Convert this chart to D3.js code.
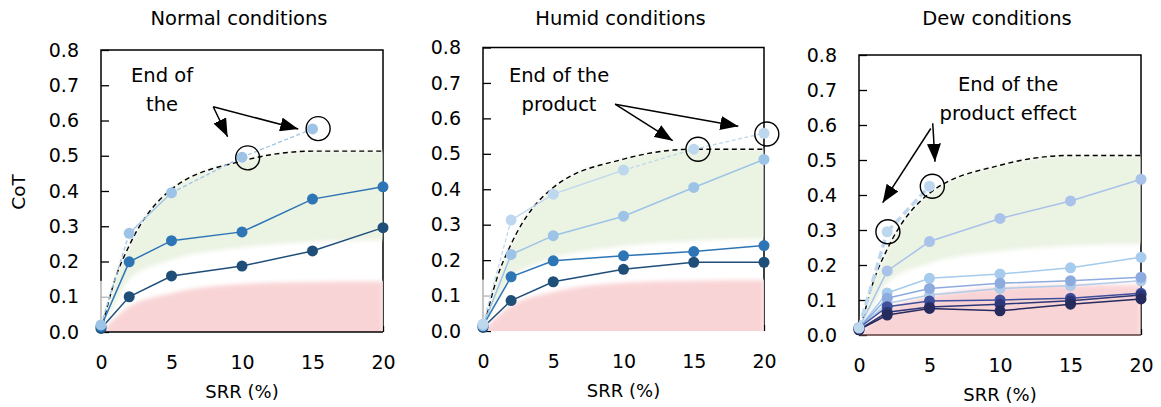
<!DOCTYPE html>
<html><head><meta charset="utf-8">
<script src="https://cdn.jsdelivr.net/npm/d3@7"></script>
<style>
body{margin:0;background:#fff}
svg{display:block}
text{font-family:"DejaVu Sans",sans-serif;fill:#000}
</style>
</head><body><svg id="c" width="1161" height="407"></svg>
<script>
// ---------- data ----------
const srr = [0, 2, 5, 10, 15, 20];
const xTickValues = [0, 5, 10, 15, 20];
const yTickValues = [0, 0.1, 0.2, 0.3, 0.4, 0.5, 0.6, 0.7, 0.8];
const panelTitles = ["Normal conditions", "Humid conditions", "Dew conditions"];
const xLabel = "SRR (%)";
const yLabel = "CoT";

const normalA = [0.02, 0.28, 0.395, 0.496, 0.576];
const normalB = [0.015, 0.199, 0.259, 0.284, 0.377, 0.412];
const normalC = [0.01, 0.1, 0.159, 0.187, 0.23, 0.296];

const humidA = [0.02, 0.313, 0.386, 0.454, 0.513, 0.558];
const humidB = [0.015, 0.216, 0.269, 0.324, 0.405, 0.484];
const humidC = [0.015, 0.153, 0.198, 0.212, 0.224, 0.241];
const humidD = [0.01, 0.086, 0.139, 0.174, 0.194, 0.194];

const dewA = [0.02, 0.295, 0.425];
const dewB = [0.02, 0.183, 0.267, 0.333, 0.383, 0.445];
const dewC = [0.02, 0.12, 0.162, 0.174, 0.192, 0.222];
const dewD = [0.02, 0.105, 0.133, 0.148, 0.155, 0.165];
const dewE = [0.02, 0.09, 0.114, 0.133, 0.141, 0.155];
const dewF = [0.02, 0.081, 0.097, 0.1, 0.105, 0.119];
const dewG = [0.015, 0.065, 0.08, 0.088, 0.098, 0.114];
const dewH = [0.015, 0.057, 0.076, 0.069, 0.088, 0.103];

// reference band (same in all panels)
const limitSrr   = [0, 1, 2, 5, 10, 15, 20];
const upperLimit = [0, 0.15, 0.245, 0.405, 0.485, 0.513, 0.513];
const greenLower = [0, 0.08, 0.15, 0.205, 0.24, 0.255, 0.26];
const redUpper   = [0, 0.04, 0.072, 0.11, 0.136, 0.142, 0.143];
const hazeTop = 0.145;

// annotations (data units)
const annotText = [["End of", "the"], ["End of the", "product"], ["End of the", "product effect"]];
const annotTextPos = [[4.33, 0.709], [5.41, 0.703], [10.57, 0.698]];
const annotArrowFrom = [[[7.96, 0.639], [7.96, 0.639]], [[9.4, 0.64], [9.4, 0.64]], [[5.09, 0.59], [5.23, 0.605]]];
const annotArrowTo = [[[8.98, 0.554], [13.99, 0.576]], [[13.5, 0.537], [18.17, 0.578]], [[1.68, 0.378], [5.39, 0.495]]];
const annotCircles = [[[10.4, 0.494], [15.4, 0.577]], [[15.3, 0.513], [20.2, 0.556]], [[2.05, 0.295], [5.2, 0.425]]];

// ---------- layout / style ----------
const panels = [
  { xr: [101, 383], yr: [332, 50], haze: true, bottom: "#000",
    series: [
      { v: normalC, c: "#1f4e79" },
      { v: normalB, c: "#2e75b6" },
      { v: normalA, c: "#9dc3e6", seg: ["d", "s", "d", "d"] }
    ] },
  { xr: [483, 764], yr: [331, 47.5], haze: true, bottom: null,
    series: [
      { v: humidD, c: "#1f4e79" },
      { v: humidC, c: "#2e75b6" },
      { v: humidB, c: "#9dc3e6" },
      { v: humidA, c: "#bdd7ee", seg: ["d", "s", "s", "d", "d"] }
    ] },
  { xr: [859, 1141], yr: [335, 55], haze: false, bottom: "#5a3c3c",
    series: [
      { v: dewB, c: "#a9c2ea" },
      { v: dewC, c: "#a6cbed" },
      { v: dewE, c: "#b0cbe8" },
      { v: dewD, c: "#8eabe0" },
      { v: dewF, c: "#3e4f9c" },
      { v: dewG, c: "#2b3776" },
      { v: dewH, c: "#262b5e" },
      { v: dewA, c: "#bdd7ee", seg: ["D", "D"] }
    ] }
];

const FONT = "DejaVu Sans";
const svg = d3.select("#c");
const defs = svg.append("defs");
defs.append("marker").attr("id", "ah")
  .attr("viewBox", "0 0 18 14").attr("refX", 18).attr("refY", 7)
  .attr("markerWidth", 18).attr("markerHeight", 14)
  .attr("markerUnits", "userSpaceOnUse").attr("orient", "auto")
  .append("path").attr("d", "M0,0 L18,7 L0,14 Z").attr("fill", "#000");
defs.append("filter").attr("id", "soft").attr("x", "-5%").attr("y", "-5%").attr("width", "110%").attr("height", "110%")
  .append("feGaussianBlur").attr("stdDeviation", 2.2);

svg.append("rect").attr("width", 1161).attr("height", 407).attr("fill", "#fff");

panels.forEach((p, i) => {
  const x = d3.scaleLinear().domain([0, 20]).range(p.xr);
  const y = d3.scaleLinear().domain([0, 0.8]).range(p.yr);
  const g = svg.append("g");
  const [x0, x1] = p.xr, [y0, y1] = p.yr;

  // frame (left, top, right)
  g.append("path").attr("d", `M${x0},${y0}V${y1}H${x1}V${y0}`)
    .attr("fill", "none").attr("stroke", "#000").attr("stroke-width", 1.5);

  // y axis
  const ya = g.append("g").attr("transform", `translate(${x0},0)`)
    .call(d3.axisLeft(y).tickValues(yTickValues).tickFormat(d3.format(".1f")).tickSize(-8).tickPadding(22));
  ya.select(".domain").remove();
  ya.selectAll("line").attr("stroke", "#000").attr("stroke-width", 1.3);
  ya.selectAll("text").attr("font-family", FONT).attr("font-size", 19).attr("fill", "#000");

  // x axis
  const xa = g.append("g").attr("transform", `translate(0,${y0})`)
    .call(d3.axisBottom(x).tickValues(xTickValues).tickFormat(d3.format("d")).tickSize(-6).tickPadding(24));
  xa.select(".domain").remove();
  xa.selectAll("line").attr("stroke", "#000").attr("stroke-width", 1.3);
  xa.selectAll("text").attr("font-family", FONT).attr("font-size", 19).attr("fill", "#000");

  // clip
  const cid = "clip" + i;
  defs.append("clipPath").attr("id", cid).append("rect")
    .attr("x", x0).attr("y", y1).attr("width", x1 - x0).attr("height", y0 - y1);

  if (p.haze) {
    g.append("rect").attr("x", x0 - 3).attr("y", y(hazeTop)).attr("width", x1 - x0 + 3)
      .attr("height", y0 - y(hazeTop)).attr("fill", "#fff").attr("opacity", 0.7);
  }

  const band = g.append("g").attr("clip-path", `url(#${cid})`);
  const greenArea = d3.area().curve(d3.curveMonotoneX)
    .x((d, k) => x(limitSrr[k])).y0((d, k) => y(greenLower[k])).y1((d, k) => y(upperLimit[k]));
  band.append("path").datum(limitSrr).attr("d", greenArea)
    .attr("fill", "#ebf3e3").attr("filter", "url(#soft)");
  const redArea = d3.area().curve(d3.curveMonotoneX)
    .x((d, k) => x(limitSrr[k])).y0(y(0) + 6).y1((d, k) => y(redUpper[k]));
  band.append("path").datum(limitSrr).attr("d", redArea)
    .attr("fill", "#f9d4d6").attr("filter", "url(#soft)");
  if (p.bottom) {
    g.append("line").attr("x1", x0).attr("x2", x1).attr("y1", y0).attr("y2", y0)
      .attr("stroke", p.bottom).attr("stroke-width", 1.5);
  }

  // upper limit dashed
  const limLine = d3.line().curve(d3.curveMonotoneX)
    .x((d, k) => x(limitSrr[k])).y((d, k) => y(upperLimit[k]));
  g.append("path").datum(limitSrr).attr("d", limLine).attr("fill", "none")
    .attr("stroke", "#000").attr("stroke-width", 1.4).attr("stroke-dasharray", "5,3.5");

  // series
  p.series.forEach(s => {
    const pts = s.v.map((v, k) => [x(srr[k]), y(v)]);
    if (s.seg) {
      for (let k = 0; k < pts.length - 1; k++) {
        const st = s.seg[k];
        g.append("line").attr("x1", pts[k][0]).attr("y1", pts[k][1])
          .attr("x2", pts[k + 1][0]).attr("y2", pts[k + 1][1])
          .attr("stroke", s.c)
          .attr("stroke-width", st === "D" ? 3.5 : 1.3)
          .attr("stroke-dasharray", st === "s" ? null : (st === "D" ? "8,4" : "4,2.5"));
      }
    } else {
      g.append("path").datum(pts).attr("d", d3.line()).attr("fill", "none")
        .attr("stroke", s.c).attr("stroke-width", 1.5);
    }
    g.selectAll(null).data(pts).join("circle")
      .attr("cx", d => d[0]).attr("cy", d => d[1]).attr("r", 5.5).attr("fill", s.c);
  });

  // titles & labels
  g.append("text").attr("x", (x0 + x1) / 2 - 3).attr("y", 25).attr("text-anchor", "middle")
    .attr("font-size", 19.5).text(panelTitles[i]);
  g.append("text").attr("x", (x0 + x1) / 2).attr("y", y0 + 66).attr("text-anchor", "middle")
    .attr("font-size", 18).text(xLabel);

  // annotation
  const tp = annotTextPos[i];
  const t = g.append("text").attr("text-anchor", "middle").attr("font-size", 19.5)
    .attr("x", x(tp[0])).attr("y", y(tp[1]));
  annotText[i].forEach((ln, k) => {
    t.append("tspan").attr("x", x(tp[0])).attr("dy", k === 0 ? 0 : 29).text(ln);
  });
  annotArrowFrom[i].forEach((f, k) => {
    const to = annotArrowTo[i][k];
    g.append("line").attr("x1", x(f[0])).attr("y1", y(f[1]))
      .attr("x2", x(to[0])).attr("y2", y(to[1]))
      .attr("stroke", "#000").attr("stroke-width", 1.5).attr("marker-end", "url(#ah)");
  });
  annotCircles[i].forEach(c => {
    g.append("circle").attr("cx", x(c[0])).attr("cy", y(c[1])).attr("r", 12)
      .attr("fill", "none").attr("stroke", "#000").attr("stroke-width", 1.4);
  });
});

svg.append("text").attr("transform", "translate(25,192) rotate(-90)")
  .attr("text-anchor", "middle").attr("font-size", 18.5).text(yLabel);
</script>
</body></html>
